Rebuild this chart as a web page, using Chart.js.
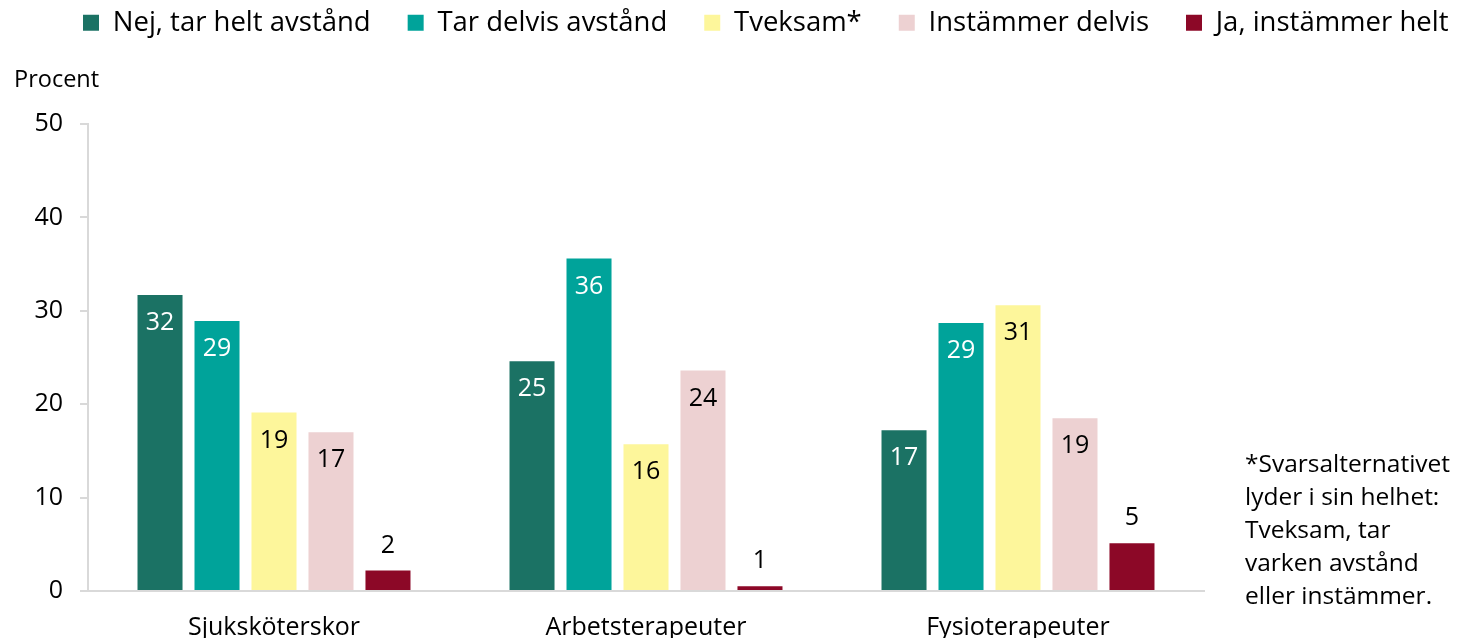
<!DOCTYPE html>
<html>
<head>
<meta charset="utf-8">
<script src="https://cdn.jsdelivr.net/npm/chart.js@4"></script>
<style>
  body { margin: 0; background: #fff; }
  #wrap { position: relative; width: 1461px; height: 638px; font-family: "Open Sans", sans-serif; color: #000; }
  #procent { position: absolute; left: 14px; top: 62px; font-size: 23.5px; }
  #note { position: absolute; left: 1245px; top: 446px; font-size: 24.5px; line-height: 33px; }
</style>
</head>
<body>
<div id="wrap">
  <canvas id="myChart" width="1461" height="638"></canvas>
  <div id="procent">Procent</div>
  <div id="note">*Svarsalternativet<br>lyder i sin helhet:<br>Tveksam, tar<br>varken avstånd<br>eller instämmer.</div>
</div>
<script>
const categories = ['Sjuksköterskor', 'Arbetsterapeuter', 'Fysioterapeuter'];
const seriesNames = ['Nej, tar helt avstånd', 'Tar delvis avstånd', 'Tveksam*', 'Instämmer delvis', 'Ja, instämmer helt'];
const nejHelt = [31.7, 24.6, 17.2];
const nejDelvis = [28.9, 35.6, 28.7];
const tveksam = [19.1, 15.7, 30.6];
const jaDelvis = [17.0, 23.6, 18.5];
const jaHelt = [2.2, 0.5, 5.1];
const colors = ['#1b7264', '#00a39a', '#fdf69b', '#edd1d2', '#8c0827'];
const labelColors = ['#fff', '#fff', '#000', '#000', '#000'];
const yTicks = [0, 10, 20, 30, 40, 50];

const allSeries = [nejHelt, nejDelvis, tveksam, jaDelvis, jaHelt];

// value labels on the bars
const barLabels = {
    id: 'barLabels',
    afterDatasetsDraw(chart) {
        const ctx = chart.ctx;
        ctx.save();
        ctx.font = '25px "Open Sans"';
        ctx.textAlign = 'center';
        ctx.textBaseline = 'middle';
        chart.data.datasets.forEach((ds, i) => {
            const meta = chart.getDatasetMeta(i);
            meta.data.forEach((bar, j) => {
                const v = ds.data[j];
                const txt = Math.round(v).toString();
                if (v >= 10) {
                    ctx.fillStyle = labelColors[i];
                    ctx.fillText(txt, bar.x, bar.y + 28);
                } else {
                    ctx.fillStyle = '#000';
                    ctx.fillText(txt, bar.x, bar.y - 25);
                }
            });
        });
        ctx.restore();
    }
};

// taller legend so the plot starts lower, kept on one row, pushed right a bit
const legendTweak = {
    id: 'legendTweak',
    beforeInit(chart) {
        const origFit = chart.legend.fit;
        chart.legend.fit = function () {
            this.maxWidth = 1600;
            origFit.bind(chart.legend)();
            this.height = 152;
        };
    },
    afterLayout(chart) {
        chart.legend.left = 46;
        chart.legend.right = 1600;
        chart.legend.width = 1554;
    }
};

new Chart(document.getElementById('myChart'), {
    type: 'bar',
    data: {
        labels: categories,
        datasets: allSeries.map((d, i) => ({
            label: seriesNames[i],
            data: d,
            backgroundColor: colors[i],
            yAxisID: 'y',
            categoryPercentage: 0.766,
            barPercentage: 0.79
        }))
    },
    options: {
        responsive: false,
        animation: false,
        layout: { padding: { left: 0, top: -28, right: 0, bottom: 0 } },
        scales: {
            x: {
                grid: { display: false, drawTicks: false },
                border: { display: true, color: '#d9d9d9', width: 2 },
                ticks: { color: '#000', font: { family: 'Open Sans', size: 25 }, padding: 22 },
                afterFit(scale) { scale.height = 47; }
            },
            y: {
                position: 'left',
                min: 0,
                max: 50,
                afterBuildTicks(scale) { scale.ticks = yTicks.map(v => ({ value: v })); },
                grid: { display: true, drawOnChartArea: false, drawTicks: true, tickLength: 8, color: '#d9d9d9', lineWidth: 2 },
                border: { display: true, color: '#d9d9d9', width: 2 },
                ticks: { color: '#000', font: { family: 'Open Sans', size: 25 }, padding: 17 },
                afterFit(scale) { scale.width = 88; }
            },
            note: {
                type: 'linear',
                position: 'right',
                grid: { display: false },
                border: { display: false },
                ticks: { display: false },
                afterFit(scale) { scale.width = 257; }
            }
        },
        plugins: {
            legend: {
                position: 'top',
                align: 'start',
                labels: {
                    color: '#000',
                    boxWidth: 16,
                    boxHeight: 16,
                    padding: 37,
                    font: { family: 'Open Sans', size: 27.5 }
                }
            },
            tooltip: { enabled: false }
        }
    },
    plugins: [barLabels, legendTweak]
});
</script>
</body>
</html>
